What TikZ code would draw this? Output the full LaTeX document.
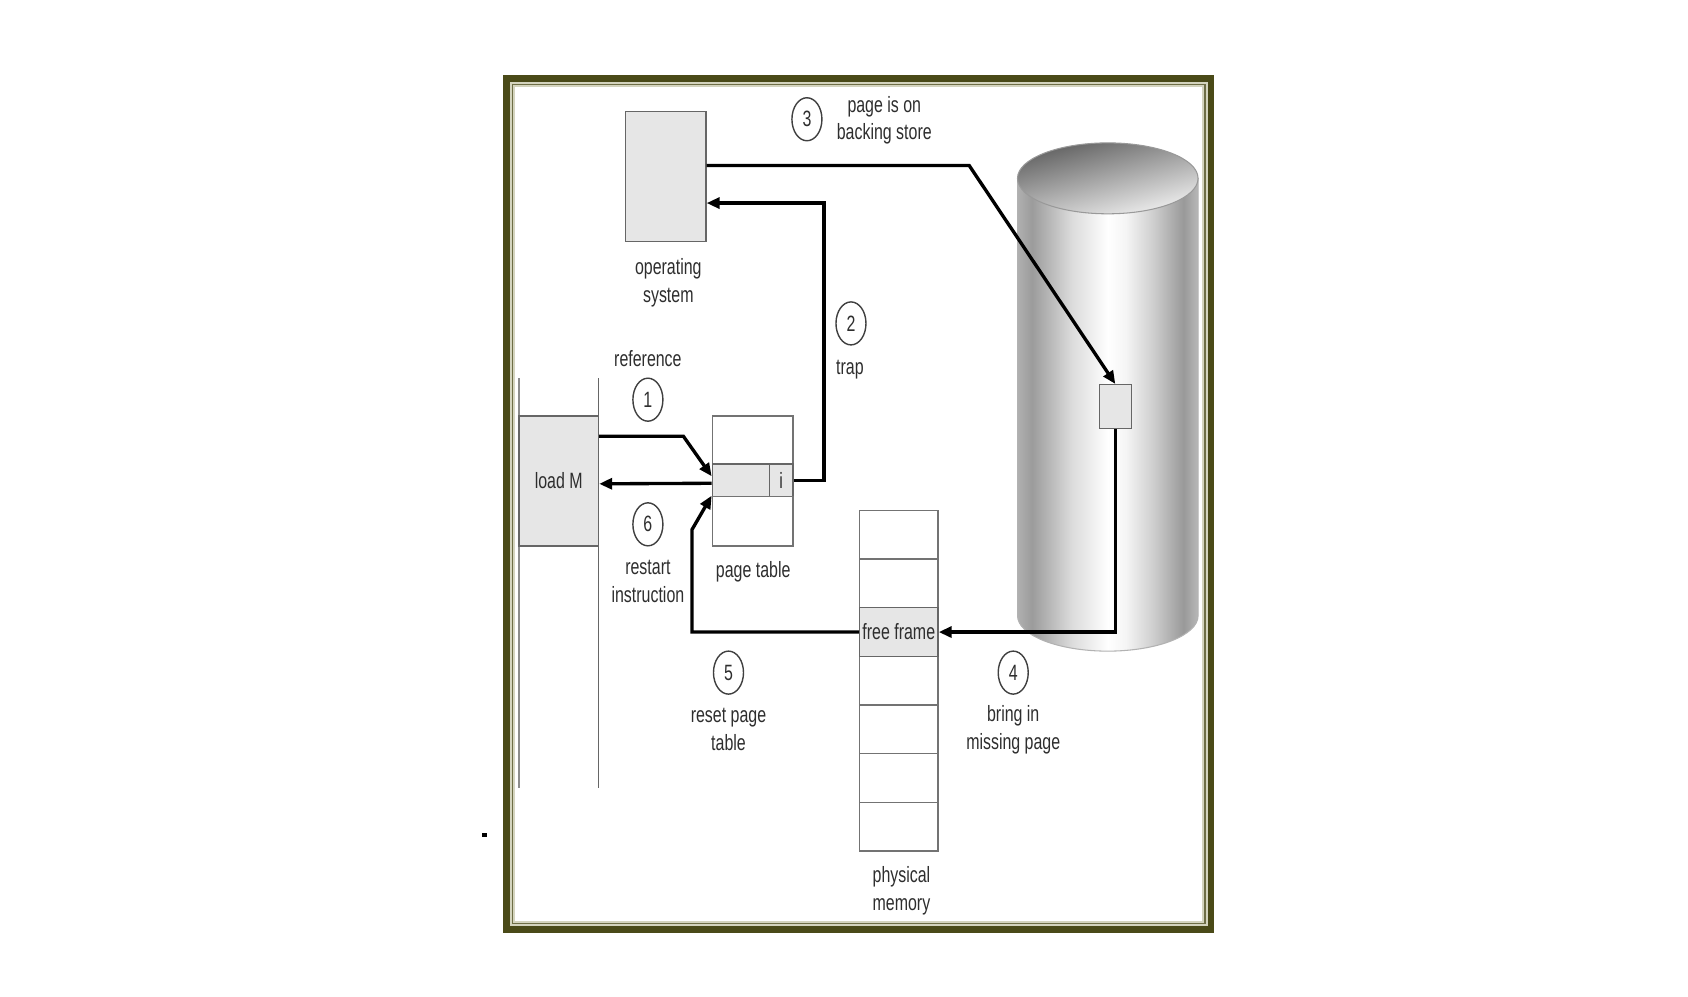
\documentclass[tikz,border=0pt]{standalone}
\usepackage{fontspec}
\setmainfont{Liberation Sans}[FakeStretch=0.72]
\usetikzlibrary{arrows.meta,shapes.geometric}
\definecolor{framedark}{HTML}{4A4A18}
\definecolor{framelight}{HTML}{D4D4BE}
\definecolor{boxgray}{HTML}{E6E6E6}
\definecolor{inkgray}{HTML}{2E2E2E}
\pgfdeclarehorizontalshading{diskside}{100bp}{color(0bp)=(black!31); color(25bp)=(black!31); color(29bp)=(black!39); color(40bp)=(black!14); color(50bp)=(white); color(55bp)=(black!4); color(62.5bp)=(black!19); color(71bp)=(black!40); color(75bp)=(black!28); color(100bp)=(black!28)}
\begin{document}
\begin{tikzpicture}[x=0.010745cm,y=-0.010745cm,
  every node/.style={font=\fontsize{6.3}{7.9}\selectfont, text=inkgray},
  lbl/.style={align=center},
  box/.style={draw=black!60, fill=boxgray, inner sep=0},
  cell/.style={draw=black!55, fill=white, inner sep=0},
  num/.style={ellipse, draw=black!75, line width=0.4pt, minimum width=0.30cm, minimum height=0.43cm, inner sep=0},
  link/.style={line width=0.95pt, -{Triangle[length=0.13cm,width=0.11cm]}}]
\useasboundingbox (0,0) rectangle (1571,927);
\draw[framedark, line width=0.0666cm] (471.5,73.1) rectangle (1126.9,864.9);
\draw[framelight, line width=0.0527cm] (477,78.6) rectangle (1121.4,859.4);
\draw[framedark!80, line width=0.37pt] (477,78.6) rectangle (1121.4,859.4);
\fill[black] (449,775) rectangle (453,779);

\path[shading=diskside, draw=black!30, line width=0.3pt] (947,166) -- (947,573) arc[start angle=180, end angle=360, x radius=0.9026cm, y radius=0.3546cm] -- (1115,166) -- cycle;
\path[top color=black!62, bottom color=black!6, shading angle=15, draw=black!40, line width=0.3pt] (1031,166) ellipse [x radius=0.9026cm, y radius=0.3546cm];
\node[box, minimum width=0.322cm, minimum height=0.44cm] (blk) at (1038,378.5) {};

\node[box, minimum width=0.806cm, minimum height=1.30cm] (os) at (619.5,164.5) {};
\node[lbl] (oslbl) at (622,263) {operating\\system};
\node[num] (n3) at (751,111) {3};
\node[lbl] (l3) at (823,112) {page is on\\backing store};

\draw[black!45] (483,352) -- (483,733);
\draw[black!60] (557,352) -- (557,733);
\node[box, minimum width=0.795cm, minimum height=1.30cm] (ldm) at (520,447.5) {load M};
\node (l1) at (603,334) {reference};
\node[num] (n1) at (603,372) {1};
\node[num] (n6) at (603,488) {6};
\node[lbl] (l6) at (603,541) {restart\\instruction};

\node[cell, minimum width=0.806cm, minimum height=0.4835cm] (pt1) at (700.5,409.5) {};
\node[box, minimum width=0.5695cm, minimum height=0.3224cm] (pt2) at (689.5,447) {};
\node[box, minimum width=0.2364cm, minimum height=0.3224cm] (pti) at (727,447) {i};
\node[cell, minimum width=0.806cm, minimum height=0.4943cm] (pt3) at (700.5,485) {};
\node (ptlbl) at (701,532) {page table};
\node[num] (n2) at (792,301) {2};
\node (l2) at (791,344) {trap};

\foreach \r in {0,...,6}
  \node[cell, minimum width=0.7844cm, minimum height=0.4867cm] (m\r) at (836.5,{497.65+45.3*\r}) {};
\node[box, minimum width=0.7844cm, minimum height=0.4867cm] (m2) at (836.5,588.25) {free frame};
\node[lbl] (memlbl) at (839,829) {physical\\memory};
\node[num] (n5) at (678,626) {5};
\node[lbl] (l5) at (678,679) {reset page\\table};
\node[num] (n4) at (943,626) {4};
\node[lbl] (l4) at (943,679) {bring in\\missing page};

\coordinate (k3) at (902,154);
\coordinate (k2) at (767,189);
\coordinate (k1) at (636,406);
\coordinate (k5) at (644,493);
\draw[link] (os.east |- k3) -- (k3) -- (blk.north);
\draw[link] (pti.east) -| (k2) -- (os.east |- k2);
\draw[link] (ldm.east |- k1) -- (k1) -- ([yshift=0.4mm]pt2.west);
\draw[link] ([yshift=-0.3mm]pt2.west) -- ([yshift=-0.3mm]ldm.east);
\draw[link] (m2.west) -| (k5) -- (pt3.north west);
\draw[link] (blk.south) |- (m2.east);
\end{tikzpicture}
\end{document}
